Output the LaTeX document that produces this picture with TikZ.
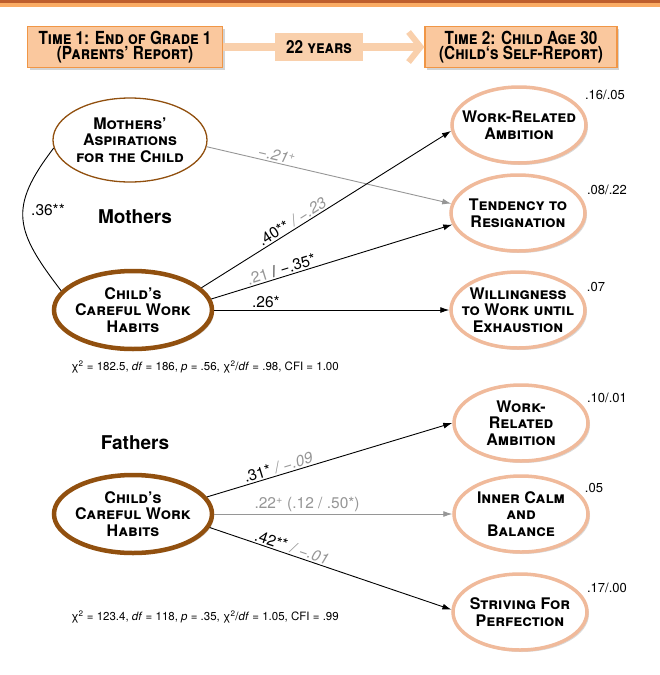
\documentclass[tikz,border=0pt]{standalone}
\usepackage{fontspec}
\setmainfont{TeX Gyre Heros}
\newfontfamily\narrowfont[FakeStretch=0.85]{TeX Gyre Heros}
\usetikzlibrary{shapes.geometric,arrows.meta,shadows}
\definecolor{brownedge}{RGB}{145,80,15}
\definecolor{salmonedge}{RGB}{240,186,155}
\definecolor{boxfill}{RGB}{250,200,158}
\definecolor{boxedge}{RGB}{240,150,70}
\definecolor{arrowpeach}{RGB}{249,208,172}
\definecolor{pathgray}{RGB}{150,150,150}
\definecolor{banddark}{RGB}{190,95,45}
\definecolor{bandlight}{RGB}{250,172,100}
\tikzset{
  timebox/.style={draw=boxedge, fill=boxfill, line width=1.2pt, minimum width=195pt,
    minimum height=41pt, align=center, inner sep=0pt,
    drop shadow={shadow xshift=2pt, shadow yshift=-2pt, opacity=0.35},
    font=\narrowfont\bfseries\scshape\fontsize{18}{15}\selectfont},
  latenttext/.style={align=center, inner sep=0pt, font=\bfseries\scshape\fontsize{16}{16.5}\selectfont},
  latent/.style={ellipse, fill=white, inner sep=0pt, label={[latenttext]center:{#1}}},
  aspire/.style={latent={#1}, draw=brownedge, line width=1.3pt, minimum width=154pt, minimum height=84pt},
  habits/.style={latent={#1}, draw=brownedge, line width=4.5pt, minimum width=158pt, minimum height=78pt,
    drop shadow={shadow xshift=2pt, shadow yshift=-2pt, opacity=0.3}},
  outcome/.style={latent={#1}, draw=salmonedge, line width=3.5pt, minimum width=134pt, minimum height=76pt,
    drop shadow={shadow xshift=2pt, shadow yshift=-2pt, opacity=0.3}},
  coef/.style={font=\fontsize{15.5}{17}\selectfont, sloped, above, inner sep=1.5pt},
  rsq/.style={font=\fontsize{13}{14}\selectfont},
  fitline/.style={font=\fontsize{11.5}{13}\selectfont},
  grouplabel/.style={font=\bfseries\fontsize{19}{21}\selectfont},
  effect/.style={-{Latex[length=9pt,width=6pt]}, line width=0.9pt},
  weak/.style={effect, pathgray},
}
\begin{document}
\begin{tikzpicture}[x=1pt,y=-1pt]
\useasboundingbox (0,0) rectangle (660,675);
\fill[banddark] (0,0) rectangle (660,2.5);
\fill[bandlight] (0,2.5) rectangle (660,7);

\node[timebox] (t1) at (125,47) {Time 1: End of Grade 1\\(Parents’ Report)};
\node[timebox, minimum width=192pt] (t2) at (521,47) {Time 2: Child Age 30\\(Child‘s Self-Report)};
\draw[arrowpeach, line width=8pt, -{Straight Barb[length=12pt,width=30pt,line width=6pt]}] (t1) -- (t2);
\node[fill=arrowpeach, minimum width=88pt, minimum height=28pt, inner sep=0pt,
  font=\narrowfont\bfseries\scshape\fontsize{18}{15}\selectfont] (gap) at (319,47) {22 years};

\node[grouplabel] (mothers) at (135,217) {Mothers};
\node[aspire={Mothers’\\Aspirations\\for the Child}] (asp) at (130,140) {};
\node[habits={Child’s\\Careful Work\\Habits}] (cm) at (133,310) {};
\node[outcome={Work-Related\\Ambition}] (wra) at (519,125) {};
\node[outcome={Tendency to\\Resignation}] (ten) at (518,213) {};
\node[outcome={Willingness\\to Work until\\Exhaustion}] (wil) at (518,310) {};
\node[rsq] (r2wra) at (605,95) {.16/.05};
\node[rsq] (r2ten) at (607,190) {.08/.22};
\node[rsq] (r2wil) at (596,287) {.07};
\node[coef, sloped=false] (r36) at (48,217) {.36**};

\draw[line width=0.9pt] (asp.186) .. controls +(-46,60) and +(-46,-60) .. (cm.165);
\draw[weak] (asp.-5) -- node[coef, pos=0.28, pathgray] {\itshape −.21\textsuperscript{+}} (ten.172);
\draw[effect] (cm.18) -- node[coef, pos=0.38] {.40** \textcolor{pathgray}{\itshape / −.23}} (wra.185);
\draw[effect] (cm.8) -- node[coef, pos=0.3] {\textcolor{pathgray}{.21} / −.35*} (ten.190);
\draw[effect] (cm) -- node[coef, pos=0.22] {.26*} (wil);

\node[fitline] (fitm) at (205,367) {χ\textsuperscript{2} = 182.5, \textit{df} = 186, \textit{p} = .56, χ\textsuperscript{2}/\textit{df} = .98, CFI = 1.00};

\node[grouplabel] (fathers) at (135,443) {Fathers};
\node[habits={Child’s\\Careful Work\\Habits}] (cf) at (133,514) {};
\node[outcome={Work-\\Related\\Ambition}] (wrb) at (521,423) {};
\node[outcome={Inner Calm\\and\\Balance}] (calm) at (521,514) {};
\node[outcome={Striving For\\Perfection}] (str) at (520,612) {};
\node[rsq] (r2wrb) at (607,398) {.10/.01};
\node[rsq] (r2calm) at (594,488) {.05};
\node[rsq] (r2str) at (607,588) {.17/.00};

\draw[effect] (cf.13) -- node[coef, pos=0.3] {.31* \textcolor{pathgray}{\itshape / −.09}} (wrb.west);
\draw[weak] (cf) -- node[coef, pos=0.39, pathgray] {.22\textsuperscript{+} (.12 / .50*)} (calm);
\draw[effect] (cf.-10) -- node[coef, pos=0.33] {.42** \textcolor{pathgray}{\itshape / −.01}} (str.178);

\node[fitline] (fitf) at (205,617) {χ\textsuperscript{2} = 123.4, \textit{df} = 118, \textit{p} = .35, χ\textsuperscript{2}/\textit{df} = 1.05, CFI = .99};
\end{tikzpicture}
\end{document}
